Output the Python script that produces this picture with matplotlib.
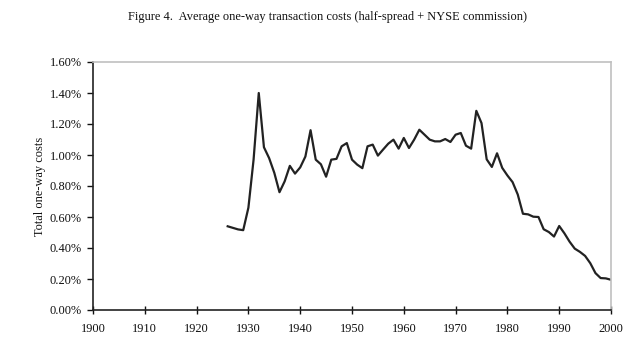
import matplotlib
matplotlib.use("Agg")
import matplotlib.pyplot as plt
from matplotlib.ticker import FuncFormatter, MultipleLocator

years = list(range(1926, 2001))
costs_pct = [
    0.54, 0.53, 0.52, 0.515, 0.66, 0.97, 1.40, 1.05, 0.98, 0.885,
    0.76, 0.83, 0.93, 0.88, 0.92, 0.99, 1.16, 0.97, 0.94, 0.86,
    0.97, 0.975, 1.056, 1.077, 0.97, 0.938, 0.915, 1.056, 1.067, 0.996,
    1.035, 1.073, 1.099, 1.041, 1.110, 1.045, 1.099, 1.163, 1.131, 1.099,
    1.088, 1.088, 1.103, 1.084, 1.131, 1.142, 1.060, 1.041, 1.285, 1.206,
    0.972, 0.923, 1.011, 0.917, 0.868, 0.825, 0.745, 0.621, 0.617, 0.602,
    0.600, 0.521, 0.503, 0.474, 0.542, 0.495, 0.441, 0.396, 0.375, 0.349,
    0.302, 0.238, 0.206, 0.204, 0.195,
]
x_ticks = list(range(1900, 2001, 10))
title = "Figure 4.  Average one-way transaction costs (half-spread + NYSE commission)"
ylabel = "Total one-way costs"

plt.rcParams['font.family'] = ['Liberation Serif', 'DejaVu Serif']
fs = 8.9

fig = plt.figure(figsize=(6.4, 3.51), dpi=100)
ax = fig.add_axes([93/640, 1 - 310/351, (611 - 93)/640, (310 - 62)/351])

ax.plot(years, costs_pct, color='#222222', lw=1.6, solid_joinstyle='round')

ax.set_xlim(1900, 2000)
ax.set_ylim(0, 1.6)
ax.set_xticks(x_ticks)
ax.yaxis.set_major_locator(MultipleLocator(0.2))
ax.yaxis.set_major_formatter(FuncFormatter(lambda v, p: f"{v:.2f}%"))

for s in ['left', 'bottom']:
    ax.spines[s].set_color('#222222')
    ax.spines[s].set_linewidth(1.2)
for s in ['top', 'right']:
    ax.spines[s].set_color('#c0c0c0')
    ax.spines[s].set_linewidth(1.2)

ax.tick_params(axis='y', direction='out', length=4, width=1, labelsize=fs, pad=4, colors='#111111')
ax.tick_params(axis='x', direction='inout', length=6, width=1, labelsize=fs, pad=6, colors='#111111')

ax.set_ylabel(ylabel, fontsize=fs, color='#111111', labelpad=3)

fig.text(328/640, 1 - 17/351, title, ha='center', va='center', fontsize=fs, color='#111111')

fig.savefig("out.png", dpi=100)
